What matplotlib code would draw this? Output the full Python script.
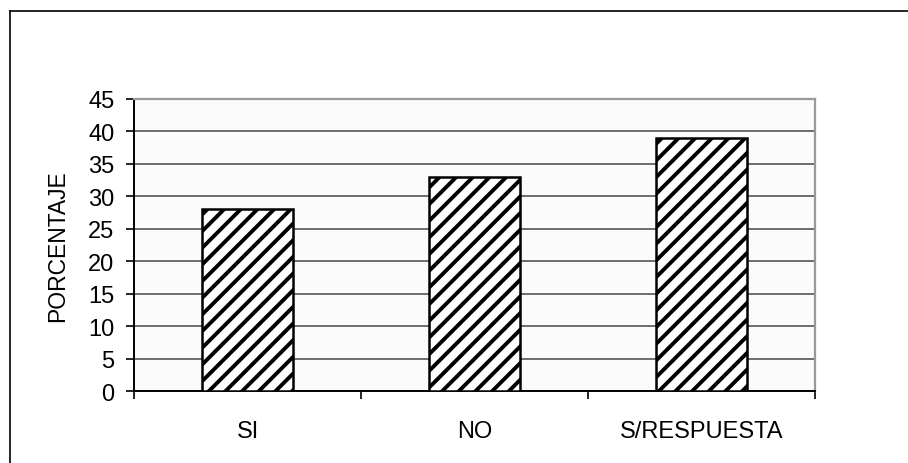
import matplotlib
matplotlib.use("Agg")
import matplotlib.pyplot as plt
from matplotlib.lines import Line2D

categories = ["SI", "NO", "S/RESPUESTA"]
values = [28, 33, 39]
y_ticks = [0, 5, 10, 15, 20, 25, 30, 35, 40, 45]

plt.rcParams["font.family"] = ["Liberation Sans", "DejaVu Sans"]
plt.rcParams["hatch.linewidth"] = 2.8

fig = plt.figure(figsize=(9.08, 4.64), dpi=100)
ax = fig.add_axes([0.1476, 0.155, 0.75, 0.6295])
ax.set_facecolor("#fbfbfb")

x = list(range(len(categories)))
ax.bar(x, values, width=0.4, color="white", edgecolor="black",
       linewidth=1.8, hatch="//", zorder=3)

ax.set_xlim(-0.5, len(categories) - 0.5)
ax.set_ylim(0, 45)
ax.set_yticks(y_ticks)
ax.set_yticklabels([str(t) for t in y_ticks], fontsize=17)
ax.grid(axis="y", color="#555555", linewidth=1.2, zorder=1)

# category labels centred, tick marks between categories
ax.set_xticks([i - 0.5 for i in range(len(categories) + 1)])
ax.set_xticklabels([])
ax.set_xticks(x, minor=True)
ax.set_xticklabels(categories, minor=True, fontsize=17)
ax.tick_params(axis="x", which="minor", length=0, pad=21)
ax.tick_params(axis="x", which="major", length=6, width=1.2, color="black")
ax.tick_params(axis="y", length=6, width=1.2, color="black", pad=8)

ax.set_ylabel("PORCENTAJE", fontsize=16.5, labelpad=14)

ax.spines["left"].set_color("black")
ax.spines["left"].set_linewidth(1.4)
ax.spines["bottom"].set_color("black")
ax.spines["bottom"].set_linewidth(1.4)
ax.spines["top"].set_color("#999999")
ax.spines["top"].set_linewidth(1.6)
ax.spines["right"].set_color("#999999")
ax.spines["right"].set_linewidth(1.6)

# outer chart border (only left and top show in the frame)
fig.add_artist(Line2D([0.011, 0.011], [0.0, 0.974], transform=fig.transFigure,
                      color="black", linewidth=1.2))
fig.add_artist(Line2D([0.011, 1.0], [0.974, 0.974], transform=fig.transFigure,
                      color="black", linewidth=1.2))

fig.savefig("out.png", dpi=100)
